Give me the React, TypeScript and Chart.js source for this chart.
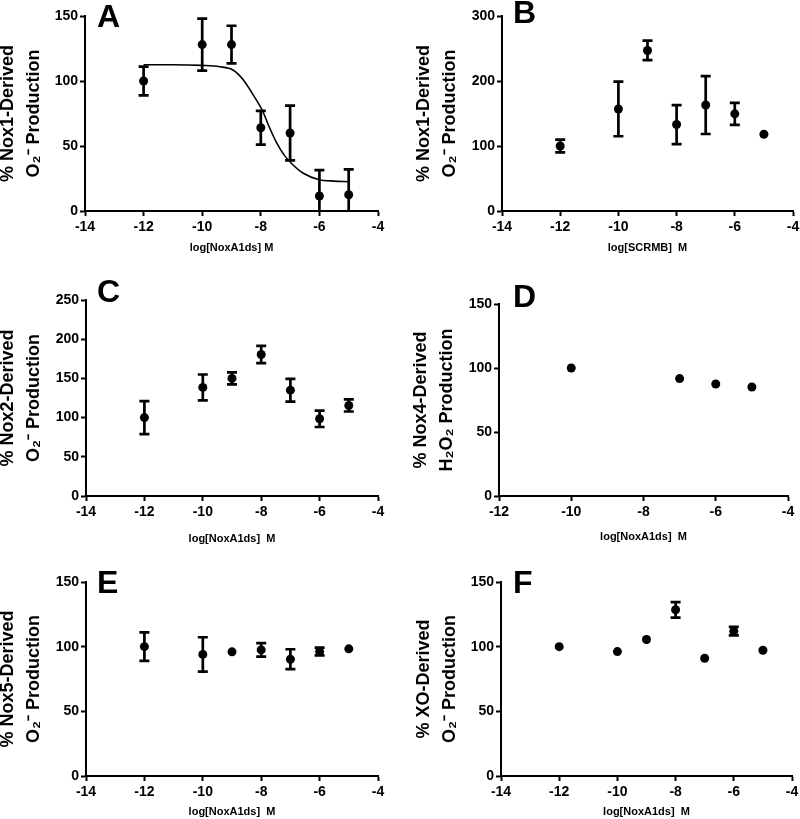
import React, { useEffect, useRef } from "react";
import { Chart, registerables } from "chart.js";

Chart.register(...registerables);

const FONT = "'Liberation Sans', Arial, Helvetica, sans-serif";

// ---------- data ----------
// Panel A: Nox1, NoxA1ds
const xA = [-12, -10, -9, -8, -7, -6, -5];
const meanA = [100, 128, 128, 64, 60, 11.5, 12.5];
const semA = [11, 20, 14.5, 13, 21, 20, 19.5];
const curveXA = [-12, -11, -10, -9.4, -8.95, -8.6, -8.25, -7.95, -7.7, -7.45, -7.2, -6.95, -6.55, -6.0, -5.5, -5.0];
const curveYA = [112.5, 112.5, 112, 111, 108.5, 101, 89, 77.5, 64, 52, 43, 36.5, 29, 24, 23, 22.5];

// Panel B: Nox1, SCRMB
const xB = [-12, -10, -9, -8, -7, -6, -5];
const meanB = [100, 157, 247, 133, 163, 149.5, 118];
const semB = [9.7, 42, 15, 30, 44.5, 17, 0];

// Panel C: Nox2
const xC = [-12, -10, -9, -8, -7, -6, -5];
const meanC = [100, 138.5, 150, 180.5, 135, 98.5, 115.5];
const semC = [21, 16.5, 7.7, 11, 14.5, 10.5, 7.7];

// Panel D: Nox4 (H2O2)
const xD = [-10, -7, -6, -5];
const meanD = [100, 91.7, 87.5, 85.2];
const semD = [0, 0, 0, 0];

// Panel E: Nox5
const xE = [-12, -10, -9, -8, -7, -6, -5];
const meanE = [100, 94, 96, 97.5, 90.3, 96.2, 98.3];
const semE = [11, 13.3, 0, 5.2, 7.7, 3, 0];

// Panel F: XO
const xF = [-12, -10, -9, -8, -7, -6, -5];
const meanF = [100, 96.2, 105.5, 128.5, 91, 112, 97.2];
const semF = [0, 0, 0, 6, 0, 3.3, 0];

// tick labels
const xTicksWide = [-14, -12, -10, -8, -6, -4];
const xTicksD = [-12, -10, -8, -6, -4];
const yTicks150 = [0, 50, 100, 150];
const yTicks300 = [0, 100, 200, 300];
const yTicks250 = [0, 50, 100, 150, 200, 250];

// ---------- plugins ----------
const errorBarPlugin = {
  id: "errorBars",
  afterDatasetsDraw(chart: any) {
    const { ctx, chartArea, scales } = chart;
    const xs = scales.x;
    const ys = scales.y;
    ctx.save();
    ctx.beginPath();
    ctx.rect(chartArea.left, chartArea.top, chartArea.right - chartArea.left, chartArea.bottom - chartArea.top);
    ctx.clip();
    ctx.strokeStyle = "#000";
    ctx.lineWidth = 2.7;
    chart.data.datasets.forEach((ds: any) => {
      const errs = ds.errors;
      if (!errs) return;
      ds.data.forEach((p: any, i: number) => {
        const e = errs[i];
        if (!e) return;
        const px = xs.getPixelForValue(p.x);
        const yt = ys.getPixelForValue(p.y + e);
        const yb = ys.getPixelForValue(p.y - e);
        const cap = 5;
        ctx.beginPath();
        ctx.moveTo(px, yt);
        ctx.lineTo(px, yb);
        ctx.moveTo(px - cap, yt);
        ctx.lineTo(px + cap, yt);
        ctx.moveTo(px - cap, yb);
        ctx.lineTo(px + cap, yb);
        ctx.stroke();
      });
    });
    ctx.restore();
  },
};

const letterPlugin = {
  id: "panelLetter",
  afterDraw(chart: any, _args: any, opts: any) {
    const { ctx, chartArea } = chart;
    ctx.save();
    ctx.font = `bold 32px ${FONT}`;
    ctx.fillStyle = "#000";
    ctx.textBaseline = "alphabetic";
    ctx.textAlign = "left";
    ctx.fillText(opts.text, chartArea.left + opts.dx, chartArea.top + opts.dy);
    ctx.restore();
  },
};

// ---------- panel layout ----------
type Panel = {
  letter: string;
  xs: number[];
  means: number[];
  sems: number[];
  curveX?: number[];
  curveY?: number[];
  xTicks: number[];
  yTicks: number[];
  xTitle: string;
  yTitle: string[];
  L: number; T: number; R: number; B: number;
  cx: number;
  xTitleY: number;
  line1X: number;
  ldx: number; ldy: number;
};

const panels: Panel[] = [
  { letter: "A", xs: xA, means: meanA, sems: semA, curveX: curveXA, curveY: curveYA, xTicks: xTicksWide, yTicks: yTicks150,
    xTitle: "log[NoxA1ds] M", yTitle: ["% Nox1-Derived", "O\u2082\u207B Production"],
    L: 85, T: 16, R: 378, B: 211, cx: -20, xTitleY: 248, line1X: 8, ldx: 12, ldy: 11 },
  { letter: "B", xs: xB, means: meanB, sems: semB, xTicks: xTicksWide, yTicks: yTicks300,
    xTitle: "log[SCRMB]  M", yTitle: ["% Nox1-Derived", "O\u2082\u207B Production"],
    L: 502, T: 16, R: 793, B: 211, cx: 390, xTitleY: 248, line1X: 424, ldx: 11, ldy: 7 },
  { letter: "C", xs: xC, means: meanC, sems: semC, xTicks: xTicksWide, yTicks: yTicks250,
    xTitle: "log[NoxA1ds]  M", yTitle: ["% Nox2-Derived", "O\u2082\u207B Production"],
    L: 86, T: 300, R: 378, B: 496, cx: -20, xTitleY: 539, line1X: 8, ldx: 11, ldy: 2 },
  { letter: "D", xs: xD, means: meanD, sems: semD, xTicks: xTicksD, yTicks: yTicks150,
    xTitle: "log[NoxA1ds]  M", yTitle: ["% Nox4-Derived", "H\u2082O\u2082 Production"],
    L: 499, T: 304, R: 788, B: 496, cx: 390, xTitleY: 537, line1X: 421, ldx: 14, ldy: 3 },
  { letter: "E", xs: xE, means: meanE, sems: semE, xTicks: xTicksWide, yTicks: yTicks150,
    xTitle: "log[NoxA1ds]  M", yTitle: ["% Nox5-Derived", "O\u2082\u207B Production"],
    L: 86, T: 582, R: 378, B: 776, cx: -20, xTitleY: 812, line1X: 8, ldx: 11, ldy: 11 },
  { letter: "F", xs: xF, means: meanF, sems: semF, xTicks: xTicksWide, yTicks: yTicks150,
    xTitle: "log[NoxA1ds]  M", yTitle: ["% XO-Derived", "O\u2082\u207B Production"],
    L: 501, T: 582, R: 792, B: 776, cx: 390, xTitleY: 812, line1X: 424, ldx: 12, ldy: 11 },
];

const CW = 420;
const TOP_PAD = 40;
const CH = 300;
const Y_TITLE_SIZE = 18;
const Y_TITLE_LH = 1.44;
const X_TITLE_SIZE = 11;
const X_TITLE_LH = 1.2;

function PanelChart({ p }: { p: Panel }) {
  const ref = useRef<HTMLCanvasElement | null>(null);
  const cy = p.T - TOP_PAD;
  useEffect(() => {
    if (!ref.current) return;
    const padRight = p.cx + CW - p.R;
    const hx = cy + CH - p.B;
    const wy = p.L - p.cx;
    const yLh = Y_TITLE_SIZE * Y_TITLE_LH;
    const yTitlePad = p.line1X - p.cx - yLh / 2;
    const xLh = X_TITLE_SIZE * X_TITLE_LH;
    const xTitlePad = cy + CH - p.xTitleY - xLh / 2;

    const datasets: any[] = [
      {
        type: "scatter",
        data: p.xs.map((x, i) => ({ x, y: p.means[i] })),
        errors: p.sems,
        pointRadius: 4.5,
        pointHoverRadius: 4.5,
        pointBackgroundColor: "#000",
        pointBorderColor: "#000",
        pointBorderWidth: 0,
        showLine: false,
      },
    ];
    if (p.curveX && p.curveY) {
      datasets.push({
        type: "line",
        data: p.curveX.map((x, i) => ({ x, y: p.curveY![i] })),
        borderColor: "#000",
        borderWidth: 1.6,
        pointRadius: 0,
        fill: false,
        cubicInterpolationMode: "monotone",
      });
    }
    const tickFont = { family: FONT, size: 14, weight: "bold" as const };
    const chart = new Chart(ref.current, {
      type: "scatter",
      data: { datasets },
      plugins: [errorBarPlugin, letterPlugin],
      options: {
        responsive: false,
        maintainAspectRatio: false,
        animation: false,
        events: [],
        layout: { padding: { left: 0, top: TOP_PAD, right: padRight, bottom: 0 } },
        plugins: {
          legend: { display: false },
          tooltip: { enabled: false },
          panelLetter: { text: p.letter, dx: p.ldx, dy: p.ldy },
        } as any,
        scales: {
          x: {
            type: "linear",
            min: p.xTicks[0],
            max: p.xTicks[p.xTicks.length - 1],
            afterBuildTicks: (s: any) => {
              s.ticks = p.xTicks.map((v) => ({ value: v }));
            },
            afterFit: (s: any) => {
              s.height = hx;
            },
            grid: { display: true, drawOnChartArea: false, drawTicks: true, tickLength: 5, tickWidth: 2, tickColor: "#000" },
            border: { display: true, color: "#000", width: 2 },
            ticks: { color: "#000", font: tickFont, padding: 3, maxRotation: 0, autoSkip: false },
            title: {
              display: true,
              text: p.xTitle,
              color: "#000",
              font: { family: FONT, size: X_TITLE_SIZE, weight: "bold", lineHeight: X_TITLE_LH },
              padding: { top: 0, bottom: xTitlePad },
            },
          },
          y: {
            type: "linear",
            min: p.yTicks[0],
            max: p.yTicks[p.yTicks.length - 1],
            afterBuildTicks: (s: any) => {
              s.ticks = p.yTicks.map((v) => ({ value: v }));
            },
            afterFit: (s: any) => {
              s.width = wy;
            },
            grid: { display: true, drawOnChartArea: false, drawTicks: true, tickLength: 5, tickWidth: 2, tickColor: "#000" },
            border: { display: true, color: "#000", width: 2 },
            ticks: { color: "#000", font: tickFont, padding: 2, autoSkip: false },
            title: {
              display: true,
              text: p.yTitle,
              color: "#000",
              font: { family: FONT, size: Y_TITLE_SIZE, weight: "bold", lineHeight: Y_TITLE_LH },
              padding: { top: yTitlePad, bottom: 0 },
            },
          },
        },
      } as any,
    });
    return () => chart.destroy();
  }, [p]);
  return (
    <canvas
      ref={ref}
      width={CW}
      height={CH}
      style={{ position: "absolute", left: p.cx, top: cy, width: CW, height: CH }}
    />
  );
}

export default function App() {
  return (
    <div
      style={{
        position: "absolute",
        left: 0,
        top: 0,
        width: 800,
        height: 819,
        overflow: "hidden",
        background: "#fff",
      }}
    >
      {panels.map((p) => (
        <PanelChart key={p.letter} p={p} />
      ))}
    </div>
  );
}
